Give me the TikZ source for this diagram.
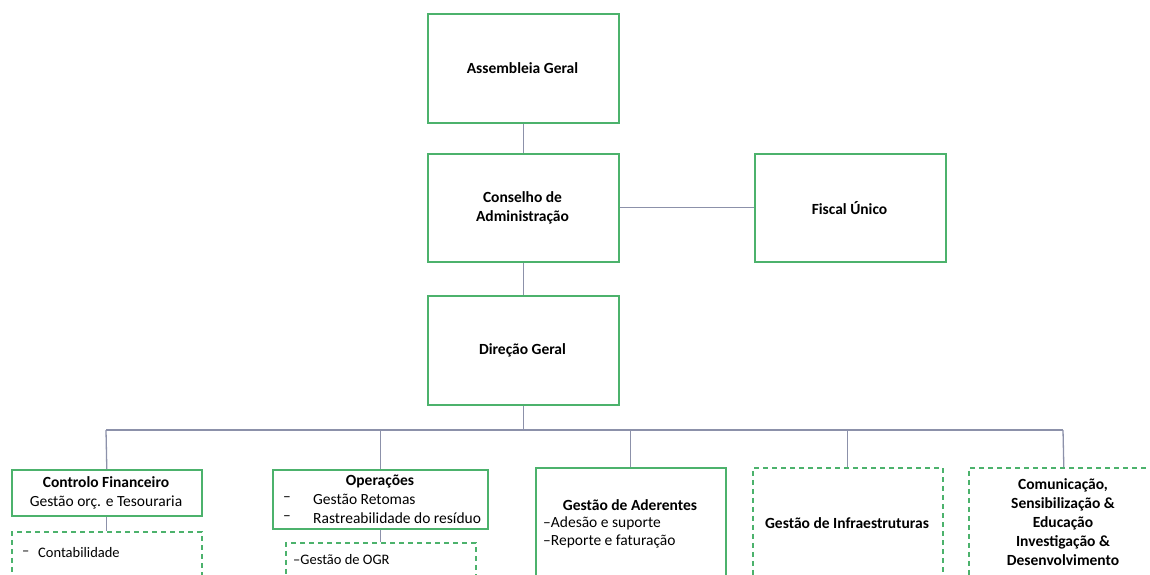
\documentclass[tikz,border=0pt]{standalone}
\usepackage{fontspec}
\setmainfont{Carlito}
\definecolor{boxgreen}{RGB}{76,178,108}
\definecolor{linegray}{RGB}{140,145,170}
\begin{document}
\begin{tikzpicture}[x=1pt,y=-1pt,
  box/.style={draw=boxgreen, line width=1.6pt, fill=white, inner sep=0pt, anchor=north west},
  dbox/.style={box, dash pattern=on 5pt off 4pt},
  link/.style={draw=linegray, line width=1.3pt},
  t/.style={inner sep=0pt, font=\fontsize{15.5}{19}\selectfont},
  tb/.style={inner sep=0pt, font=\fontsize{15.5}{19}\selectfont\bfseries},
  ts/.style={inner sep=0pt, font=\fontsize{14.5}{18}\selectfont, anchor=west}]
\useasboundingbox (0,0) rectangle (1150,574);
\clip (0,0) rectangle (1150,574);
\fill[white] (0,0) rectangle (1150,574);

% top boxes
\node[box, minimum width=191pt, minimum height=109pt] (ag) at (427,13) {};
\node[box, minimum width=191pt, minimum height=108pt] (ca) at (427,153) {};
\node[box, minimum width=191pt, minimum height=108pt] (fu) at (754,153) {};
\node[box, minimum width=191pt, minimum height=109pt] (dg) at (427,295) {};

% second level
\node[box, minimum width=190pt, minimum height=46pt] (cf) at (11,469) {};
\node[dbox, minimum width=190pt, minimum height=80pt] (cfd) at (11,531) {};
\node[box, minimum width=215pt, minimum height=59pt] (op) at (272,469) {};
\node[dbox, minimum width=190pt, minimum height=80pt] (opd) at (285,542) {};
\node[box, minimum width=190pt, minimum height=130pt] (ga) at (535,467) {};
\node[dbox, minimum width=190pt, minimum height=130pt] (gi) at (752,467) {};
\node[dbox, minimum width=190pt, minimum height=130pt] (cs) at (968,467) {};

% connectors
\coordinate (busL) at (106,430);
\coordinate (busR) at (1063,430);
\draw[link] (ag.south) -- (ca.north);
\draw[link] (ca.east) -- (fu.west);
\draw[link] (ca.south) -- (dg.north);
\draw[link] (dg.south) -- (dg.south |- busL);
\draw[link] (busL) -- (busR);
\draw[link] (busL) -- (cf.north);
\draw[link] (op.north |- busL) -- (op.north);
\draw[link] (ga.north |- busL) -- (ga.north);
\draw[link] (gi.north |- busL) -- (gi.north);
\draw[link] (busR) -- (cs.north);
\draw[link] (cf.south) -- (cf.south |- cfd.north);
\draw[link] (op.south) -- (op.south |- opd.north);

% texts
\node[tb] (agt) at (522.5,68) {Assembleia Geral};
\node[tb, align=center] (cat) at (522.5,208) {Conselho de\\Administração};
\node[tb] (fut) at (849.5,208) {Fiscal Único};
\node[tb] (dgt) at (522.5,350) {Direção Geral};

\node[t, align=center] (cft) at (106,492.5) {\textbf{Controlo Financeiro}\\Gestão orç. e Tesouraria};
\node[ts] (cfd1) at (22,553) {–};
\node[ts] (cfd2) at (38,553) {Contabilidade};

\node[tb] (opt) at (380,482) {Operações};
\node[t, anchor=west] (op1a) at (283,499.5) {–};
\node[t, anchor=west] (op1b) at (313,499.5) {Gestão Retomas};
\node[t, anchor=west] (op2a) at (283,518) {–};
\node[t, anchor=west] (op2b) at (313,518) {Rastreabilidade do resíduo};
\node[ts] (opd1) at (293,560) {–Gestão de OGR};

\node[tb] (gat) at (630,505) {Gestão de Aderentes};
\node[t, anchor=west] (ga1) at (543,523) {–Adesão e suporte};
\node[t, anchor=west] (ga2) at (543,541) {–Reporte e faturação};

\node[tb] (git) at (847,523) {Gestão de Infraestruturas};
\node[tb, align=center] (cst) at (1063,522.5) {Comunicação,\\Sensibilização \&\\Educação\\Investigação \&\\Desenvolvimento};
\end{tikzpicture}
\end{document}
